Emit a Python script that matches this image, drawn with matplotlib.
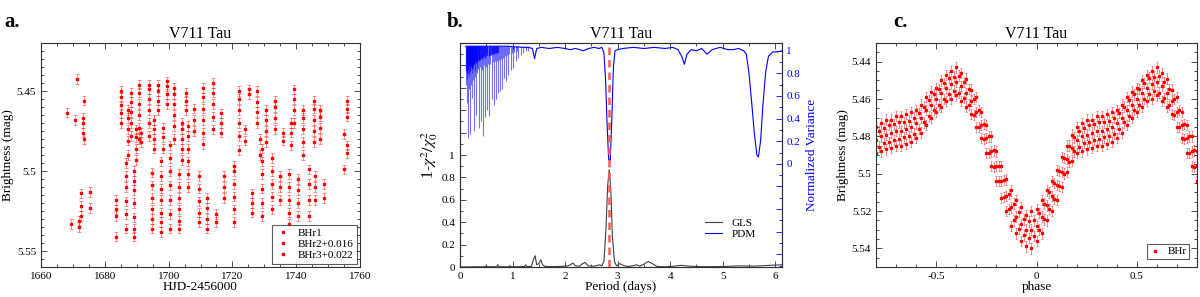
import numpy as np
import matplotlib
matplotlib.use("Agg")
import matplotlib.pyplot as plt
from matplotlib.ticker import MultipleLocator, FuncFormatter
from matplotlib.lines import Line2D

plt.rcParams['font.family'] = ['Liberation Serif', 'DejaVu Serif']
plt.rcParams['mathtext.fontset'] = 'stix'

# ---- panel a: nightly light curve (HJD-2456000, mag) ----
night_t = [1668.0, 1669.3, 1670.6, 1671.3, 1672.0, 1672.5, 1673.3, 1673.6, 1675.2,
           1683.6, 1685.0, 1686.7, 1687.3, 1688.3, 1689.0, 1689.7, 1690.8, 1691.4,
           1694.0, 1694.7, 1695.3, 1696.7, 1697.5, 1698.3, 1699.5, 1700.4, 1701.6,
           1703.2, 1704.3, 1705.4, 1706.2, 1708.0, 1709.5, 1710.8, 1712.0, 1713.8,
           1714.8, 1716.4, 1717.3, 1720.4, 1722.2, 1724.0, 1725.3, 1726.2, 1727.6,
           1728.5, 1729.4, 1730.5, 1732.3, 1733.3, 1735.0, 1735.8, 1737.7, 1738.3,
           1739.3, 1740.6, 1742.0, 1743.9, 1745.5, 1746.0, 1747.6, 1748.7, 1755.0,
           1756.0]
night_mags = [
    [5.4635], [5.533], [5.468], [5.4425], [5.535, 5.531], [5.528, 5.522, 5.514],
    [5.476, 5.470, 5.467], [5.456, 5.480], [5.513, 5.523],
    [5.541, 5.528, 5.524, 5.518], [5.470, 5.464, 5.459, 5.454, 5.450],
    [5.536, 5.527, 5.519, 5.510, 5.503, 5.495], [5.490, 5.481, 5.474, 5.467, 5.462],
    [5.478, 5.470, 5.463, 5.457, 5.451], [5.541, 5.536, 5.529, 5.520, 5.512, 5.506, 5.500],
    [5.493, 5.486, 5.479, 5.474], [5.480, 5.473, 5.465, 5.458, 5.451, 5.446],
    [5.482, 5.476],
    [5.478, 5.470, 5.462, 5.455, 5.449, 5.446], [5.536, 5.530, 5.524, 5.517, 5.509, 5.501],
    [5.486, 5.480, 5.474, 5.468], [5.462, 5.456, 5.450, 5.446],
    [5.538, 5.532, 5.526, 5.518, 5.511, 5.503, 5.494], [5.486, 5.479, 5.473],
    [5.458, 5.452, 5.447, 5.444], [5.536, 5.527, 5.518, 5.509, 5.500, 5.492, 5.484],
    [5.480, 5.472, 5.465, 5.458, 5.452, 5.448],
    [5.536, 5.531, 5.524, 5.517, 5.510, 5.502], [5.493, 5.486, 5.480, 5.474, 5.470],
    [5.462, 5.456, 5.451], [5.510, 5.502, 5.494, 5.486, 5.478, 5.472],
    [5.475, 5.468, 5.461], [5.532, 5.526, 5.519, 5.511, 5.503],
    [5.483, 5.476, 5.468, 5.461, 5.454, 5.448], [5.536, 5.530, 5.523, 5.517],
    [5.474, 5.466, 5.458, 5.451, 5.445],
    [5.532, 5.527], [5.476, 5.470, 5.464], [5.517, 5.510, 5.503],
    [5.532, 5.524, 5.516, 5.508, 5.500, 5.497], [5.487, 5.478, 5.470, 5.462, 5.455, 5.450],
    [5.481, 5.474], [5.452, 5.449], [5.526, 5.520, 5.514], [5.470, 5.463, 5.457, 5.450],
    [5.490, 5.480], [5.528, 5.520, 5.511, 5.502, 5.494, 5.486], [5.482, 5.475, 5.468, 5.462],
    [5.524, 5.516, 5.508, 5.500, 5.492], [5.474, 5.467, 5.460, 5.456],
    [5.518, 5.510, 5.503], [5.481, 5.476], [5.533, 5.526, 5.518, 5.510, 5.502],
    [5.484, 5.476, 5.470],
    [5.470, 5.462, 5.455, 5.449], [5.528, 5.520, 5.512, 5.505],
    [5.490, 5.482, 5.474, 5.467, 5.462], [5.528, 5.518, 5.508, 5.499],
    [5.482, 5.475, 5.468, 5.461, 5.456], [5.518, 5.510, 5.503],
    [5.480, 5.473, 5.466, 5.462], [5.517, 5.508], [5.499, 5.477],
    [5.466, 5.461, 5.456, 5.484, 5.489],
]
# which telescope each night belongs to
night_set = [1] * 18 + [2, 3, 1, 2, 3, 1, 2, 3, 1, 2, 3, 1, 2, 3, 1, 2, 3, 1, 2, 3, 1, 2, 3,
                         1, 2, 3, 1, 2, 3, 1, 2, 3, 1, 2, 3, 1, 2, 3, 1, 2, 3, 1, 2, 3, 1, 3]
set_labels = {1: "BHr1", 2: "BHr2+0.016", 3: "BHr3+0.022"}
mag_err_a = 0.003

# ---- panel b: periodograms ----
gls_period = [0.0, 0.3, 0.48, 0.5, 0.52, 0.7, 0.72, 0.74, 0.93, 0.95, 0.97, 1.1,
              1.23, 1.25, 1.27, 1.36, 1.40, 1.43, 1.46, 1.50, 1.54, 1.57, 1.62,
              1.8, 1.95, 2.05, 2.1, 2.15, 2.2, 2.28, 2.33, 2.38, 2.44, 2.55, 2.62,
              2.66, 2.70, 2.74, 2.78, 2.81, 2.84, 2.87, 2.90, 2.94, 2.98, 3.04,
              3.12, 3.2, 3.3, 3.36, 3.42, 3.5, 3.58, 3.66, 3.75, 3.9, 4.05, 4.2,
              4.35, 4.6, 5.0, 5.3, 5.6, 5.9, 6.12]
gls_power = [0.0, 0.002, 0.002, 0.012, 0.002, 0.003, 0.02, 0.003, 0.002, 0.012, 0.002,
             0.003, 0.004, 0.02, 0.004, 0.005, 0.07, 0.10, 0.02, 0.03, 0.065, 0.02,
             0.005, 0.004, 0.006, 0.01, 0.02, 0.035, 0.01, 0.008, 0.03, 0.04, 0.01,
             0.008, 0.015, 0.02, 0.01, 0.05, 0.35, 0.72, 0.87, 0.70, 0.28, 0.05,
             0.01, 0.03, 0.012, 0.005, 0.012, 0.02, 0.008, 0.025, 0.05, 0.03, 0.005,
             0.002, 0.006, 0.015, 0.008, 0.003, 0.004, 0.01, 0.008, 0.015, 0.02]

pdm_period = [0.11, 0.3, 0.6, 0.9, 1.2, 1.30, 1.38, 1.42, 1.46, 1.55, 1.7, 1.85,
              2.0, 2.1, 2.2, 2.35, 2.45, 2.55, 2.65, 2.70, 2.74, 2.77, 2.80, 2.83,
              2.86, 2.89, 2.92, 2.95, 3.0, 3.1, 3.3, 3.5, 3.7, 3.9, 4.05, 4.15,
              4.22, 4.27, 4.32, 4.4, 4.5, 4.6, 4.7, 4.8, 4.95, 5.1, 5.2, 5.3, 5.4,
              5.45, 5.5, 5.55, 5.6, 5.65, 5.68, 5.72, 5.77, 5.82, 5.87, 5.95, 6.05,
              6.12]
pdm_var = [1.04, 1.04, 1.04, 1.04, 1.03, 1.03, 1.02, 0.93, 1.02, 1.03, 1.02, 1.03,
           1.02, 1.01, 1.02, 1.00, 1.02, 1.03, 1.02, 1.03, 0.98, 0.75, 0.35, 0.04,
           0.03, 0.40, 0.85, 1.00, 1.01, 1.02, 1.03, 1.02, 1.03, 1.02, 1.03, 1.01,
           0.95, 0.88, 0.97, 1.01, 1.00, 1.02, 0.97, 1.01, 1.03, 1.01, 1.01, 1.02,
           1.00, 0.97, 0.80, 0.55, 0.28, 0.08, 0.06, 0.20, 0.55, 0.82, 0.95, 0.99,
           0.99, 1.00]
# comb of aliases at short periods (period, minimum variance)
alias_period = [0.115, 0.127, 0.137, 0.146, 0.156, 0.166, 0.178, 0.19, 0.2, 0.211,
                0.222, 0.233, 0.244, 0.255, 0.266, 0.277, 0.29, 0.304, 0.317, 0.33,
                0.345, 0.361, 0.38, 0.399, 0.415, 0.431, 0.453, 0.475, 0.494, 0.513,
                0.535, 0.558, 0.58, 0.602, 0.62, 0.64, 0.66, 0.678, 0.697, 0.716,
                0.735, 0.754, 0.773, 0.792, 0.815, 0.837, 0.856, 0.875, 0.897, 0.919,
                0.94, 0.963, 0.99, 1.014, 1.036, 1.058, 1.083, 1.109, 1.153, 1.204,
                1.25, 1.30]
alias_min = [0.70, 0.54, 0.75, 0.23, 0.80, 0.66, 0.78, 0.26, 0.82, 0.70, 0.58, 0.80,
             0.74, 0.84, 0.29, 0.82, 0.77, 0.43, 0.85, 0.80, 0.84, 0.32, 0.86, 0.38,
             0.83, 0.25, 0.87, 0.41, 0.86, 0.48, 0.88, 0.42, 0.88, 0.57, 0.90, 0.52,
             0.91, 0.57, 0.91, 0.63, 0.92, 0.64, 0.93, 0.66, 0.94, 0.76, 0.95, 0.73,
             0.96, 0.79, 0.97, 0.83, 0.98, 0.85, 0.99, 0.91, 1.0, 0.94, 0.96, 0.98,
             1.0, 1.0]
shallow_period = [0.121, 0.132, 0.141, 0.151, 0.161, 0.172, 0.184, 0.195, 0.205, 0.216,
                  0.228, 0.238, 0.25, 0.26, 0.272, 0.284, 0.297, 0.31, 0.323, 0.337,
                  0.353, 0.37, 0.39, 0.407, 0.423, 0.442, 0.464, 0.485, 0.503, 0.524,
                  0.546, 0.569, 0.591, 0.611, 0.63, 0.65, 0.669, 0.687, 0.706, 0.725]
shallow_min = [0.82, 0.86, 0.80, 0.88, 0.84, 0.87, 0.83, 0.89, 0.86, 0.88, 0.85, 0.90,
               0.87, 0.89, 0.88, 0.91, 0.89, 0.92, 0.90, 0.92, 0.91, 0.93, 0.92, 0.94,
               0.93, 0.94, 0.95, 0.94, 0.95, 0.96, 0.95, 0.96, 0.96, 0.97, 0.97, 0.97,
               0.98, 0.98, 0.98, 0.99]
best_period = 2.84

# ---- panel c: phased light curve ----
phase_c = [-0.5, -0.475, -0.45, -0.425, -0.4, -0.375, -0.35, -0.325, -0.3, -0.275,
           -0.25, -0.225, -0.2, -0.175, -0.15, -0.125, -0.1, -0.075, -0.05, -0.025,
           0.0, 0.025, 0.05, 0.075, 0.1, 0.125, 0.15, 0.175, 0.2, 0.225, 0.25, 0.275,
           0.3, 0.325, 0.35, 0.375, 0.4, 0.425, 0.45, 0.475]
mag_c_mid = [5.460, 5.457, 5.454, 5.452, 5.451, 5.453, 5.457, 5.461, 5.467, 5.474,
             5.481, 5.488, 5.496, 5.504, 5.512, 5.518, 5.523, 5.527, 5.530, 5.530,
             5.528, 5.523, 5.517, 5.512, 5.506, 5.499, 5.492, 5.486, 5.482, 5.480,
             5.479, 5.478, 5.477, 5.477, 5.476, 5.475, 5.473, 5.470, 5.466, 5.463]
mag_c_hi = [5.454, 5.450, 5.447, 5.445, 5.443, 5.446, 5.449, 5.455, 5.459, 5.467,
            5.474, 5.480, 5.488, 5.496, 5.503, 5.509, 5.514, 5.518, 5.522, 5.520,
            5.519, 5.514, 5.509, 5.504, 5.498, 5.491, 5.485, 5.479, 5.475, 5.473,
            5.471, 5.471, 5.469, 5.469, 5.468, 5.467, 5.466, 5.463, 5.459, 5.456]
mag_c_lo = [5.467, 5.464, 5.461, 5.460, 5.458, 5.461, 5.464, 5.468, 5.475, 5.481,
            5.489, 5.496, 5.504, 5.513, 5.520, 5.528, 5.532, 5.536, 5.539, 5.540,
            5.536, 5.532, 5.525, 5.520, 5.514, 5.507, 5.499, 5.493, 5.489, 5.488,
            5.487, 5.486, 5.485, 5.485, 5.484, 5.483, 5.481, 5.478, 5.474, 5.470]
phase_c2 = [-0.4875, -0.4625, -0.4375, -0.4125, -0.3875, -0.3625, -0.3375, -0.3125,
            -0.2875, -0.2625, -0.2375, -0.2125, -0.1875, -0.1625, -0.1375, -0.1125,
            -0.0875, -0.0625, -0.0375, -0.0125, 0.0125, 0.0375, 0.0625, 0.0875,
            0.1125, 0.1375, 0.1625, 0.1875, 0.2125, 0.2375, 0.2625, 0.2875, 0.3125,
            0.3375, 0.3625, 0.3875, 0.4125, 0.4375, 0.4625, 0.4875]
mag_c2_hi = [5.4545, 5.4515, 5.4485, 5.4480, 5.4475, 5.4510, 5.4545, 5.4600, 5.4660,
             5.4735, 5.4800, 5.4875, 5.4960, 5.5035, 5.5110, 5.5160, 5.5205, 5.5245,
             5.5255, 5.5250, 5.5210, 5.5160, 5.5100, 5.5050, 5.4985, 5.4915, 5.4850,
             5.4805, 5.4770, 5.4755, 5.4740, 5.4735, 5.4725, 5.4725, 5.4715, 5.4700,
             5.4675, 5.4640, 5.4605, 5.4575]
mag_c2_lo = [5.4630, 5.4600, 5.4575, 5.4555, 5.4565, 5.4595, 5.4630, 5.4685, 5.4750,
             5.4815, 5.4890, 5.4965, 5.5040, 5.5125, 5.5190, 5.5250, 5.5295, 5.5330,
             5.5345, 5.5335, 5.5300, 5.5245, 5.5190, 5.5135, 5.5065, 5.5000, 5.4935,
             5.4880, 5.4855, 5.4835, 5.4830, 5.4820, 5.4815, 5.4805, 5.4800, 5.4785,
             5.4760, 5.4725, 5.4690, 5.4660]
mag_err_c = 0.0028

RED = "#ff0000"
BLUE = "#0000ff"
ERR_RED = (1, 0, 0, 0.5)


def style_axes(ax):
    for s in ax.spines.values():
        s.set_linewidth(0.8)
        s.set_color("#333333")
    ax.tick_params(which="both", direction="in", top=True, right=True,
                   labelsize=8, width=0.6, colors="#333333", labelcolor="black")
    ax.tick_params(which="major", length=4)
    ax.tick_params(which="minor", length=2)


fmt_g = FuncFormatter(lambda v, p: "%g" % round(v, 4) if abs(v) > 1e-9 else "0")


def dot_handle():
    return Line2D([], [], ls="none", marker="s", ms=2, color=RED)


fig = plt.figure(figsize=(12, 2.97), dpi=100)

# ----- a -----
ax_a = fig.add_axes([0.0342, 0.101, 0.2658, 0.754])
for k in (1, 2, 3):
    tt, mm = [], []
    for t, mags, s in zip(night_t, night_mags, night_set):
        if s == k:
            tt += [t] * len(mags)
            mm += mags
    ax_a.errorbar(tt, mm, yerr=mag_err_a, fmt="s", ms=1.5, color=RED,
                  ecolor=ERR_RED, elinewidth=0.6, capsize=1.2, capthick=0.6)
ax_a.set_xlim(1660, 1760)
ax_a.set_ylim(5.56, 5.42)
ax_a.xaxis.set_major_locator(MultipleLocator(20))
ax_a.xaxis.set_minor_locator(MultipleLocator(5))
ax_a.yaxis.set_major_locator(MultipleLocator(0.05))
ax_a.yaxis.set_minor_locator(MultipleLocator(0.005))
ax_a.yaxis.set_major_formatter(fmt_g)
style_axes(ax_a)
ax_a.set_xlabel("HJD-2456000", fontsize=9.5, labelpad=0)
ax_a.set_ylabel("Brightness (mag)", fontsize=9.5, labelpad=2)
ax_a.set_title("V711 Tau", fontsize=11.5, pad=4)
leg = ax_a.legend([dot_handle() for _ in range(3)], [set_labels[k] for k in (1, 2, 3)],
                  loc="lower right", fontsize=8, frameon=True, fancybox=False,
                  borderaxespad=0.3, handlelength=1.4, handletextpad=0.6,
                  labelspacing=0.12, borderpad=0.3)
leg.get_frame().set_edgecolor("#333333")
leg.get_frame().set_linewidth(0.8)

# ----- b -----
ax_b = fig.add_axes([0.3833, 0.101, 0.268, 0.754])
ax_b2 = ax_b.twinx()
ax_b.plot(gls_period, gls_power, color="#404040", lw=0.8)
ax_b2.vlines(alias_period, alias_min, 1.04, color=BLUE, lw=0.8, alpha=0.55)
ax_b2.vlines(shallow_period, shallow_min, 1.04, color=BLUE, lw=0.8, alpha=0.8)
ax_b2.plot(pdm_period, pdm_var, color=BLUE, lw=0.8)
ax_b2.axvline(best_period, color="#ff5a5a", lw=1.8, ls=(0, (3, 2)))
ax_b.set_xlim(0, 6.12)
ax_b.set_ylim(0, 2.0)
ax_b2.set_ylim(-0.912, 1.068)
ax_b.xaxis.set_major_locator(MultipleLocator(1))
ax_b.xaxis.set_minor_locator(MultipleLocator(0.5))
ax_b.yaxis.set_major_locator(MultipleLocator(0.2))
ax_b.yaxis.set_minor_locator(MultipleLocator(0.1))
ax_b.yaxis.set_major_formatter(FuncFormatter(
    lambda v, p: ("%g" % round(v, 3)) if v < 1.001 else ""))
ax_b2.yaxis.set_major_locator(MultipleLocator(0.2))
ax_b2.yaxis.set_minor_locator(MultipleLocator(0.1))
ax_b2.yaxis.set_major_formatter(FuncFormatter(
    lambda v, p: ("%g" % round(v, 3)) if v > -0.001 else ""))
style_axes(ax_b)
ax_b.tick_params(right=False, which="both")
ax_b2.tick_params(which="both", direction="in", labelsize=8, width=0.6,
                  colors=BLUE, labelcolor=BLUE)
ax_b2.tick_params(which="major", length=4)
ax_b2.tick_params(which="minor", length=2)
for s in ax_b2.spines.values():
    s.set_linewidth(0.8)
    s.set_color("#333333")
ax_b.set_xlabel("Period (days)", fontsize=9.5, labelpad=0)
ax_b.set_ylabel(r"1-$\chi^2/\chi_0^2$", fontsize=11.5, labelpad=1)
ax_b2.set_ylabel("Normalized Variance", fontsize=9.5, color=BLUE, labelpad=4)
ax_b.set_title("V711 Tau", fontsize=11.5, pad=4)
handles = [Line2D([], [], color="#404040", lw=0.8), Line2D([], [], color=BLUE, lw=0.8)]
ax_b2.legend(handles, ["GLS", "PDM"], loc="lower right", bbox_to_anchor=(0.95, 0.08),
             fontsize=8, frameon=False, handlelength=1.6, labelspacing=0.15)

# ----- c -----
ax_c = fig.add_axes([0.73, 0.101, 0.2675, 0.754])
for shift in (-1, 0, 1):
    for phases, mags in ((phase_c, mag_c_hi), (phase_c, mag_c_mid), (phase_c, mag_c_lo),
                         (phase_c2, mag_c2_hi), (phase_c2, mag_c2_lo)):
        ph = [p + shift for p in phases]
        ax_c.errorbar(ph, mags, yerr=mag_err_c, fmt="s", ms=1.4, color=RED,
                      ecolor=ERR_RED, elinewidth=0.6, capsize=1.0, capthick=0.6)
ax_c.set_xlim(-0.8, 0.8)
ax_c.set_ylim(5.55, 5.43)
ax_c.xaxis.set_major_locator(MultipleLocator(0.5))
ax_c.xaxis.set_minor_locator(MultipleLocator(0.1))
ax_c.xaxis.set_major_formatter(fmt_g)
ax_c.yaxis.set_major_locator(MultipleLocator(0.02))
ax_c.yaxis.set_minor_locator(MultipleLocator(0.005))
ax_c.yaxis.set_major_formatter(fmt_g)
style_axes(ax_c)
ax_c.set_xlabel("phase", fontsize=9.5, labelpad=0)
ax_c.set_ylabel("Brightness (mag)", fontsize=9.5, labelpad=2)
ax_c.set_title("V711 Tau", fontsize=11.5, pad=4)
legc = ax_c.legend([dot_handle()], ["BHr"], loc="lower right", fontsize=8,
                   frameon=True, fancybox=False, borderaxespad=0.7,
                   handlelength=1.0, handletextpad=0.6, borderpad=0.25)
legc.get_frame().set_edgecolor("#333333")
legc.get_frame().set_linewidth(0.8)

# panel letters
for x, s in ((0.004, "a."), (0.3725, "b."), (0.744, "c.")):
    fig.text(x, 0.96, s, fontsize=15, fontweight="bold", va="top", ha="left")

fig.savefig("out.png", dpi=100)
